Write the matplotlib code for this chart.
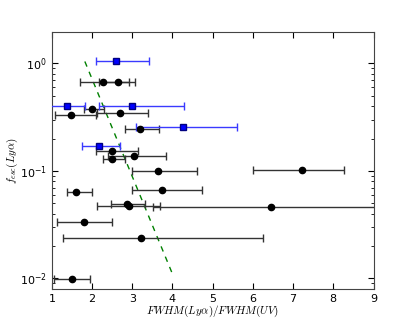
import matplotlib
matplotlib.use('Agg')
import matplotlib.pyplot as plt
import numpy as np

plt.rcParams['mathtext.fontset'] = 'cm'
plt.rcParams['font.size'] = 8

# black points: x, y, left/right ends of the x error bar
blk_x = [2.27, 2.64, 2.00, 1.48, 2.69, 3.19, 2.49, 3.04, 2.49, 3.64, 1.61, 3.74,
         2.86, 2.91, 6.46, 1.80, 3.21, 1.49, 7.23]
blk_y = [0.673, 0.673, 0.38, 0.33, 0.348, 0.243, 0.154, 0.137, 0.130, 0.100, 0.064, 0.067,
         0.0495, 0.0467, 0.0464, 0.0336, 0.0237, 0.0099, 0.101]
blk_lo = [1.71, 2.17, 1.80, 1.07, 2.12, 2.82, 2.10, 2.39, 2.28, 2.99, 1.37, 2.99,
          2.46, 2.13, 3.51, 1.13, 1.27, 1.05, 6.00]
blk_hi = [2.93, 3.07, 2.30, 2.10, 3.39, 3.66, 3.13, 3.84, 2.83, 4.62, 1.99, 4.73,
          3.32, 3.69, 9.40, 2.50, 6.25, 1.945, 8.26]

# blue squares
blu_x = [2.60, 1.38, 2.99, 4.27, 2.18]
blu_y = [1.05, 0.40, 0.40, 0.256, 0.17]
blu_lo = [2.09, 0.95, 2.16, 3.09, 1.76]
blu_hi = [3.41, 1.82, 4.28, 5.60, 2.69]

# dashed relation
line_x = [1.82, 4.0]
line_y = [1.04, 0.0110]

fig = plt.figure(figsize=(4.15, 3.21), dpi=100)
ax = fig.add_axes([0.125, 0.1, 0.775, 0.8])

bx = np.array(blk_x)
ax.errorbar(bx, blk_y, xerr=[bx - np.array(blk_lo), np.array(blk_hi) - bx],
            fmt='o', color='k', ecolor='#333333', ms=4.5, capsize=3, elinewidth=1, zorder=3)
ux = np.array(blu_x)
ax.errorbar(ux, blu_y, xerr=[ux - np.array(blu_lo), np.array(blu_hi) - ux],
            fmt='s', color='b', mfc='b', mec='#000080', ecolor='#3a3aff', ms=4.5, capsize=3,
            elinewidth=1, zorder=3)

ax.plot(line_x, line_y, '--', color='g', lw=1, dashes=(4, 4))

ax.set_yscale('log')
ax.set_xlim(1, 9)
ax.set_ylim(0.008, 1.95)
ax.set_xticks(range(1, 10))
ax.tick_params(which='both', direction='in', top=True, right=True)
ax.tick_params(which='major', length=4)
ax.tick_params(which='minor', length=2)
for s in ax.spines.values():
    s.set_color('#444444')

ax.set_xlabel(r'$FWHM(Ly\alpha)/FWHM(UV)$', fontsize=8, labelpad=0)
ax.set_ylabel(r'$f_{esc}(Ly\alpha)$', fontsize=8, labelpad=0)

fig.savefig('out.png', dpi=100)
